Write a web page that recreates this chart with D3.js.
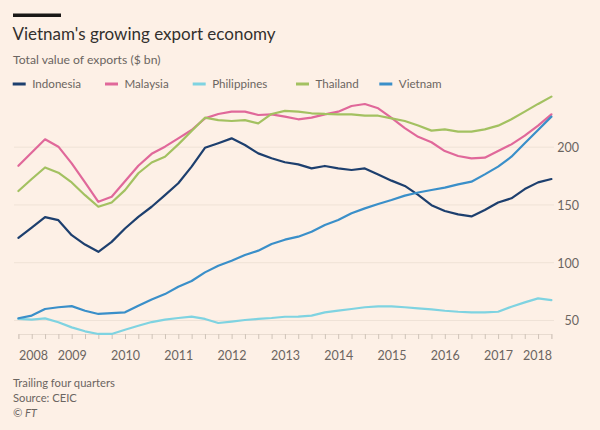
<!DOCTYPE html>
<html>
<head>
<meta charset="utf-8">
<script src="https://cdn.jsdelivr.net/npm/d3@7"></script>
<style>
  html, body { margin: 0; padding: 0; background: #fdf0e6; }
  svg { display: block; }
  text { font-family: Lato, "Noto Sans", sans-serif; }
</style>
</head>
<body>
<svg id="chart" width="600" height="430"></svg>
<script>
const years = [2008, 2009, 2010, 2011, 2012, 2013, 2014, 2015, 2016, 2017, 2018];
const quarterLabels = ["Q1", "Q2", "Q3", "Q4"];
// quarterly periods 2008 Q1 .. 2018 Q1
const periods = [];
years.forEach(y => quarterLabels.forEach((q, k) => { if (y < 2018 || k === 0) periods.push({ year: y, q: k }); }));

const seriesNames = ["Indonesia", "Malaysia", "Philippines", "Thailand", "Vietnam"];
const seriesColors = ["#1d3f6e", "#e0689a", "#7fd3e1", "#a3c161", "#3a8fc9"];

const indonesia = [121, 130, 139, 136.4, 123.4, 115.3, 109, 117.6, 129.2, 139.3,
  148, 158, 168.3, 182.7, 199, 203, 207.2, 201.4, 194.2, 190,
  186.5, 184.7, 181.2, 183.3, 181.2, 179.8, 181.2, 176, 170.6, 166,
  158.3, 149.4, 144.3, 141.4, 139.6, 145.2, 151.7, 155.3, 163.3, 169.1, 172];
const malaysia = [183.5, 195, 206.4, 200, 185.5, 169, 152.3, 156.6, 170, 183.5,
  193.8, 200, 207.2, 214.4, 224.5, 228.3, 230.3, 230.3, 227.4, 228,
  226, 223.7, 225.1, 228, 230.3, 235.2, 236.9, 233.2, 225, 216,
  208.5, 203.8, 196.2, 191.9, 189.9, 190.5, 196.2, 202, 209.5, 218.2, 228];
const philippines = [50.9, 50.3, 51.4, 48, 43.6, 40.2, 37.9, 37.9, 41.6, 45,
  48.2, 50.3, 51.7, 52.9, 50.9, 47.4, 48.6, 50, 50.9, 51.7,
  52.8, 52.9, 53.8, 56.6, 58.1, 59.5, 61, 61.8, 61.8, 61,
  60, 59.2, 58, 57.1, 56.6, 56.6, 57.1, 61.5, 65.2, 68.7, 67.2];
const thailand = [161.6, 172, 182, 177.5, 169, 158, 148, 151.7, 162.4, 177,
  186.3, 191.3, 202, 213.6, 225.1, 223, 222.2, 223, 220.2, 228.3,
  231, 230.3, 228.9, 228.3, 228, 228, 226.8, 226.8, 224.5, 222.2,
  218.3, 213.9, 215, 213, 213, 215, 218.2, 223.7, 230.3, 237, 243.3];
const vietnam = [51.5, 53.8, 59.5, 61, 62, 58, 55.2, 56, 56.6, 62.4,
  67.8, 72.4, 78.8, 83.7, 91.2, 97, 101.3, 106.2, 110, 115.7,
  119.5, 122.1, 126.4, 132.2, 136.5, 142.3, 146.6, 150.4, 153.8, 157.6,
  160.3, 162.5, 164.5, 167.4, 169.7, 176, 182.7, 191.3, 202.9, 214.4, 226];

const seriesValues = [indonesia, malaysia, philippines, thailand, vietnam];
const yTicks = [50, 100, 150, 200];

const titleText = "Vietnam's growing export economy";
const subtitleText = "Total value of exports ($ bn)";
const footerLines = ["Trailing four quarters", "Source: CEIC", "\u00A9 FT"];

const svg = d3.select("#chart");
svg.append("rect").attr("width", 600).attr("height", 430).attr("fill", "#fdf0e6");

// header
svg.append("rect").attr("x", 13).attr("y", 13.5).attr("width", 48).attr("height", 3.5).attr("fill", "#1a1817");
svg.append("text").attr("x", 12.5).attr("y", 39.5).attr("font-size", 17).attr("fill", "#33302e").text(titleText);
svg.append("text").attr("x", 13).attr("y", 64).attr("font-size", 12.2).attr("fill", "#6b6561").text(subtitleText);

// scales
const x = d3.scaleLinear().domain([2008, 2018]).range([18.4, 551.4]);
const y = d3.scaleLinear().domain([37, 250]).range([335, 88.9]);
const px = p => x(p.year + p.q / 4);

// gridlines + right axis labels
const yAxis = d3.axisRight(y).tickValues(yTicks).tickSize(-540).tickPadding(0).tickFormat(d3.format("d"));
const gy = svg.append("g").attr("transform", "translate(554,0)").call(yAxis);
gy.select(".domain").remove();
gy.selectAll(".tick line").attr("stroke", "#efe2d6").attr("stroke-width", 1);
gy.selectAll(".tick text").attr("x", 25).attr("text-anchor", "end").attr("dy", "0.4em")
  .attr("font-size", 12.5).attr("fill", "#6b6561").style("font-family", "Lato, sans-serif");

// x axis: quarterly ticks
const xAxis = d3.axisBottom(x).tickValues(periods.map(p => p.year + p.q / 4)).tickSize(5).tickFormat("");
const gx = svg.append("g").attr("transform", "translate(0,334)").call(xAxis);
gx.select(".domain").attr("stroke", "#e8dbd0");
gx.selectAll(".tick line").attr("stroke", "#cfc3b8");

// year labels
const gl = svg.append("g").attr("transform", "translate(0,334)")
  .call(d3.axisBottom(x).tickValues(years).tickSize(0).tickPadding(17).tickFormat(d3.format("d")));
gl.select(".domain").remove();
gl.selectAll(".tick text").attr("font-size", 12.5).attr("fill", "#6b6561").style("font-family", "Lato, sans-serif")
  .attr("text-anchor", (d, i) => i === 0 ? "start" : (i === years.length - 1 ? "end" : "middle"));

// lines
const line = d3.line().x((d, i) => px(periods[i])).y(d => y(d)).curve(d3.curveLinear);
seriesNames.forEach((name, s) => {
  svg.append("path").datum(seriesValues[s])
    .attr("d", line).attr("fill", "none").attr("stroke", seriesColors[s])
    .attr("stroke-width", 2.2).attr("stroke-linejoin", "round").attr("stroke-linecap", "round");
});

// legend
const legendX = [12.7, 105, 192.7, 296, 379.3];
const lg = svg.append("g");
seriesNames.forEach((name, s) => {
  lg.append("line").attr("x1", legendX[s]).attr("x2", legendX[s] + 13).attr("y1", 84).attr("y2", 84)
    .attr("stroke", seriesColors[s]).attr("stroke-width", 3);
  lg.append("text").attr("x", legendX[s] + 19.5).attr("y", 88.2).attr("font-size", 11.6).attr("fill", "#6b6561").text(name);
});

// footer
footerLines.forEach((t, i) => {
  svg.append("text").attr("x", 13).attr("y", 387 + i * 15).attr("font-size", 11.2)
    .attr("fill", "#6b6561").attr("font-style", i === 2 ? "italic" : "normal").text(t);
});
</script>
</body>
</html>
